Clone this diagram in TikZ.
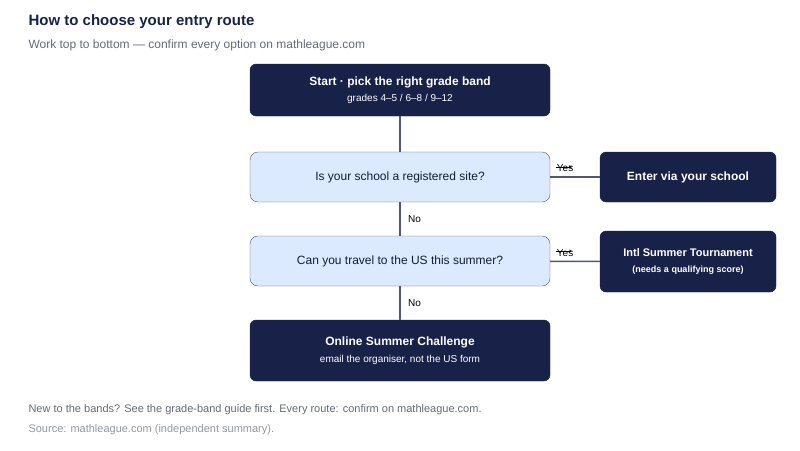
\documentclass[tikz,border=0pt]{standalone}
\usepackage{fontspec}
\setmainfont{Liberation Sans}
\definecolor{navy}{RGB}{24, 33, 72}
\definecolor{paleblue}{RGB}{219, 234, 254}
\definecolor{edgegray}{RGB}{80, 88, 115}
\definecolor{textgray}{RGB}{100, 106, 120}
\usetikzlibrary{positioning}

\tikzset{
  dark/.style = {draw = navy, fill = navy, rounded corners = 6pt, text = white, align = center, inner sep = 0pt},
  ask/.style = {draw = edgegray, fill = paleblue, rounded corners = 8pt, text = navy!80!black, align = center, inner sep = 0pt, minimum width = 300pt, minimum height = 50pt, font = \fontsize{12}{14}\selectfont},
  link/.style = {draw = edgegray, line width = 1.5pt},
  tag/.style = {font = \fontsize{10}{12}\selectfont, text = black}
}

\begin{document}
\begin{tikzpicture}[x = 1pt, y = -1pt]
	\useasboundingbox (0, 0) rectangle (800, 450);
	\node[anchor = west, font = \bfseries\fontsize{15}{18}\selectfont, text = navy] (title) at (25, 22) {How to choose your entry route};
	\node[anchor = west, font = \fontsize{12}{14}\selectfont, text = textgray] (sub) at (25, 45) {Work top to bottom — confirm every option on mathleague.com};
	\node[dark, minimum width = 300pt, minimum height = 52pt] (start) at (400, 90) {{\bfseries\fontsize{12}{14}\selectfont Start · pick the right grade band}\\[4pt]{\fontsize{10}{12}\selectfont grades 4–5 / 6–8 / 9–12}};
	\node[ask] (school) at (400, 177) {Is your school a registered site?};
	\node[ask] (travel) at (400, 261) {Can you travel to the US this summer?};
	\node[dark, minimum width = 300pt, minimum height = 61pt] (online) at (400, 350.5) {{\bfseries\fontsize{12}{14}\selectfont Online Summer Challenge}\\[5pt]{\fontsize{10}{12}\selectfont email the organiser, not the US form}};
	\node[dark, minimum width = 176pt, minimum height = 50pt, font = \bfseries\fontsize{12}{14}\selectfont] (viaschool) at (688, 177) {Enter via your school};
	\node[dark, minimum width = 176pt, minimum height = 61pt] (intl) at (688, 261.5) {{\bfseries\fontsize{11}{13}\selectfont Intl Summer Tournament}\\[4pt]{\bfseries\fontsize{9}{11}\selectfont (needs a qualifying score)}};
	\draw[link] (start) -- (school);
	\draw[link] (school) -- node[tag, right = 4pt] {No} (travel);
	\draw[link] (travel) -- node[tag, right = 4pt] {No} (online);
	\draw[link] (school) -- node[tag, pos = 0.3, above = 1pt] {Yes} (viaschool);
	\draw[link] (travel) -- node[tag, pos = 0.3, above = 1pt] {Yes} (intl);
	\draw[-stealth, thin] (556, 167) -- (572, 167);
	\draw[-stealth, thin] (556, 251) -- (572, 251);
	\node[anchor = west, font = \fontsize{11}{13}\selectfont, text = textgray] (note) at (25, 410) {New to the bands? See the grade-band guide first. Every route: confirm on mathleague.com.};
	\node[anchor = west, font = \fontsize{11}{13}\selectfont, text = textgray!70] (source) at (25, 430) {Source: mathleague.com (independent summary).};
\end{tikzpicture}
\end{document}
